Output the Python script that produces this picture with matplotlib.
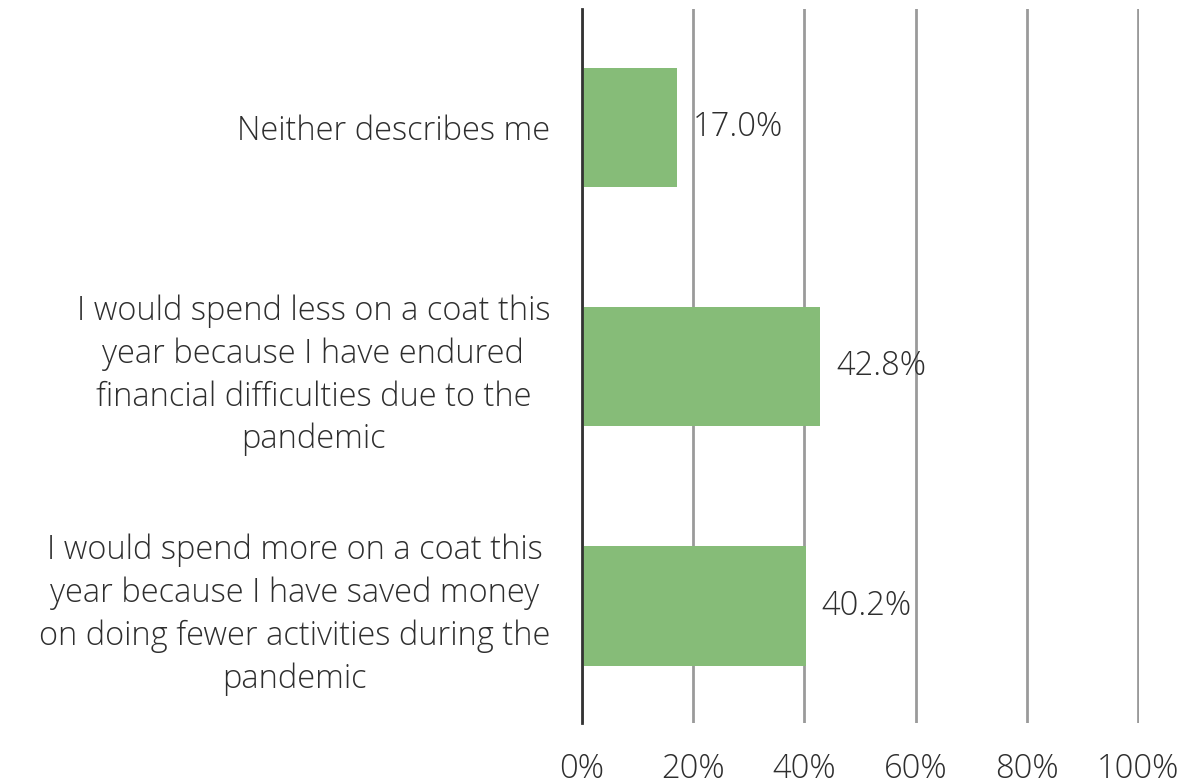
import matplotlib
matplotlib.use("Agg")
import matplotlib.pyplot as plt
from matplotlib.ticker import FuncFormatter

categories = [
    "Neither describes me",
    "I would spend less on a coat this\nyear because I have endured\nfinancial difficulties due to the\npandemic",
    "I would spend more on a coat this\nyear because I have saved money\non doing fewer activities during the\npandemic",
]
values = [17.0, 42.8, 40.2]
xticks = [0, 20, 40, 60, 80, 100]

plt.rcParams['font.family'] = ['Open Sans', 'DejaVu Sans']
plt.rcParams['font.weight'] = 'light'
text_color = "#2e2e2e"
fs = 23.5

fig = plt.figure(figsize=(11.84, 7.84), dpi=100)
ax = fig.add_axes([0.4916, 0.0778, 0.4704, 0.9107])

y = list(range(len(categories)))
ax.barh(y, values, height=0.5, color="#86bc78", zorder=3)
for yi, v in zip(y, values):
    ax.text(v + 2.9, yi, f"{v:.1f}%", va="center", ha="left", fontsize=fs,
            color=text_color, zorder=4)

ax.set_xlim(0, 100.2)
ax.set_ylim(2.49, -0.495)
ax.set_xticks(xticks)
ax.xaxis.set_major_formatter(FuncFormatter(lambda v, p: f"{v:.0f}%"))
ax.set_yticks(y)
ax.set_yticklabels(categories, multialignment="center", linespacing=1.37)
ax.tick_params(axis="y", length=0, pad=23, labelsize=fs, labelcolor=text_color)
ax.tick_params(axis="x", length=0, pad=21, labelsize=fs, labelcolor=text_color)

ax.grid(axis="x", color="#9a9a9a", linewidth=2, zorder=1)
for s in ["top", "right", "bottom"]:
    ax.spines[s].set_visible(False)
ax.spines["left"].set_color("#333333")
ax.spines["left"].set_linewidth(2)
ax.spines["left"].set_zorder(5)

fig.savefig("out.png", dpi=100, facecolor="white")
